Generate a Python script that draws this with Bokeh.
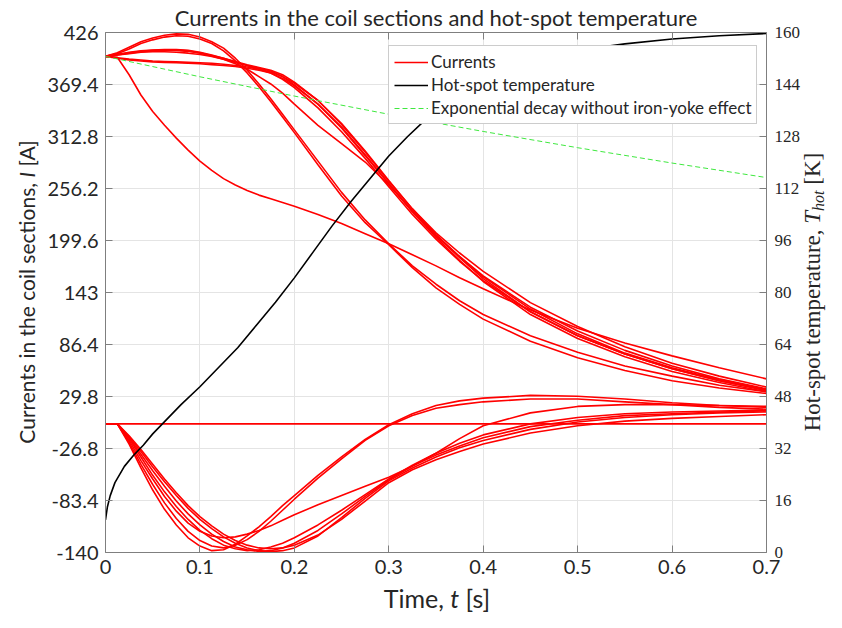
import math
from bokeh.plotting import figure
from bokeh.models import (Range1d, LinearAxis, FixedTicker, Legend, LegendItem,
                          ColumnDataSource, Row, Column, Div)
from bokeh.embed import file_html
from bokeh.resources import INLINE

# ---------------- data ----------------
time_s = [0, 0.0125, 0.025, 0.0375, 0.05, 0.0625, 0.075, 0.0875, 0.1,
          0.1125, 0.125, 0.1375, 0.15, 0.1625, 0.175, 0.1875, 0.2,
          0.225, 0.25, 0.275, 0.3, 0.325, 0.35, 0.375, 0.4,
          0.45, 0.5, 0.55, 0.6, 0.65, 0.7]

# currents in sections that start at ~400 A
cur_p1 = [400, 404, 410, 416, 420, 423, 424.5, 424, 421, 416, 409, 398, 385, 370, 354, 337, 320,
          286, 252, 222, 196, 172, 152, 134, 119, 96, 78, 63, 52, 42, 35]
cur_p2 = [400, 403, 408, 414, 418, 421, 422.5, 422, 419, 414, 406, 395, 382, 367, 351, 334, 317,
          282, 248, 219, 195, 170, 148, 130, 114, 90, 72, 58, 47, 39, 33]
cur_b1 = [400, 402, 404, 405.5, 406.5, 407, 407, 406, 404, 401, 398, 394.5, 391, 388, 385, 380, 372,
          352, 326, 296, 264, 234, 208, 186, 166, 132, 106, 84, 66, 52, 40]
cur_b2 = [400, 401.5, 403.5, 405, 406, 406.5, 406.5, 405.5, 403.5, 400.5, 397, 393.5, 390, 387, 384, 378, 369,
          348, 322, 292, 261, 231, 205, 182, 161, 127, 101, 80, 63, 49, 38]
cur_b3 = [400, 402, 404.5, 406, 407, 407.5, 407.5, 406.5, 404.5, 401.5, 398, 394, 390, 386, 382, 375, 366,
          344, 318, 289, 258, 228, 201, 177, 156, 122, 96, 76, 60, 47, 37]
cur_m = [400, 401.5, 403, 404.5, 405, 405, 404.5, 403.5, 402, 400, 397, 392, 386, 378, 370, 360, 348,
         325, 305, 285, 260, 232, 205, 181, 158, 122, 96, 76, 60, 47, 36]
cur_f1 = [400, 398.5, 397, 396, 395, 394.5, 394, 393.5, 393, 392.5, 391.5, 390, 388.5, 386, 383, 378, 371,
          352, 327, 297, 265, 234, 206, 182, 160, 125, 98, 77, 61, 48, 37]
cur_f2 = [400, 398, 396, 395, 394, 393.5, 393, 392.5, 392, 391, 390, 389, 387, 385, 382, 376, 368,
          348, 323, 293, 262, 231, 203, 178, 155, 119, 93, 73, 57, 45, 35]
cur_d = [400, 399, 380, 358, 340, 325, 311, 298, 286, 276, 267, 260, 254, 249, 245, 241, 237,
         228, 218, 207, 196, 184, 172, 159, 147, 124, 104, 88, 74, 61, 49]

# currents in sections that start at 0 A
cur_l1 = [0, 0, -22, -48, -72, -93, -110, -124, -133, -138, -137, -131, -122, -112, -101, -89, -78,
          -56, -36, -17, -1, 11, 20, 25, 28, 31, 30, 27, 23, 20, 18]
cur_l2 = [0, 0, -20, -44, -66, -86, -103, -117, -127, -133, -135, -132, -126, -117, -106, -94, -82,
          -59, -38, -18, -2, 9, 17, 21, 24, 27, 27, 24, 21, 18, 16]
cur_l3 = [0, 0, -18, -40, -60, -79, -95, -108, -117, -122, -124, -123, -120, -116, -111, -105, -99,
          -88, -78, -68, -58, -46, -32, -16, -2, 12, 19, 21, 21, 20, 19]
cur_l4 = [0, 0, -16, -36, -56, -74, -90, -104, -116, -125, -132, -136, -138, -137, -134, -130, -124,
          -110, -94, -77, -60, -45, -32, -21, -12, 0, 7, 11, 13, 14, 15]
cur_l5 = [0, 0, -15, -33, -51, -68, -84, -98, -110, -120, -128, -134, -137, -139, -138, -135, -130,
          -116, -98, -79, -61, -46, -34, -24, -15, -3, 4, 9, 11, 13, 14]
cur_l6 = [0, 0, -14, -30, -47, -63, -78, -92, -104, -114, -123, -130, -135, -138, -139, -138, -135,
          -122, -102, -81, -62, -48, -36, -26, -18, -6, 2, 7, 10, 12, 13]
cur_l7 = [0, 0, -13, -28, -44, -60, -75, -89, -101, -111, -120, -127, -132, -135, -136, -135, -132,
          -121, -104, -84, -64, -50, -39, -30, -22, -10, -2, 3, 6, 8, 10]
cur_zero = [0] * len(time_s)

# hot-spot temperature (right axis)
temp_time = [0, 0.002, 0.005, 0.01, 0.02, 0.03, 0.04, 0.05, 0.06, 0.08, 0.1, 0.12, 0.14, 0.16,
             0.18, 0.2, 0.22, 0.24, 0.26, 0.28, 0.3, 0.32, 0.34, 0.36, 0.38, 0.4, 0.45, 0.5,
             0.55, 0.6, 0.65, 0.7]
temp_k = [10, 14, 17.5, 21.5, 26.5, 30, 33, 36.5, 39.5, 45.5, 51, 57, 63, 70,
          77, 84.5, 92.5, 100.5, 108, 115, 122, 128, 133.5, 138, 142, 145.5, 151, 154.5,
          156.5, 158, 159, 159.7]

# exponential decay without iron-yoke effect
exp_time = [0, 0.1, 0.2, 0.3, 0.4, 0.5, 0.6, 0.7]
exp_cur = [400, 377.8, 356.8, 337.0, 318.3, 300.6, 283.9, 268.1]

x_ticks = [0, 0.1, 0.2, 0.3, 0.4, 0.5, 0.6, 0.7]
x_labels = ["0", "0.1", "0.2", "0.3", "0.4", "0.5", "0.6", "0.7"]
i_ticks = [-140, -83.4, -26.8, 29.8, 86.4, 143, 199.6, 256.2, 312.8, 369.4, 426]
i_labels = ["-140", "-83.4", "-26.8", "29.8", "86.4", "143", "199.6", "256.2", "312.8", "369.4", "426"]
t_ticks = [0, 16, 32, 48, 64, 80, 96, 112, 128, 144, 160]
t_labels = ["0", "16", "32", "48", "64", "80", "96", "112", "128", "144", "160"]

current_names = ["cur_p1", "cur_p2", "cur_b1", "cur_b2", "cur_b3", "cur_m", "cur_f1", "cur_f2",
                 "cur_d", "cur_l1", "cur_l2", "cur_l3", "cur_l4", "cur_l5", "cur_l6", "cur_l7",
                 "cur_zero"]
current_series = [cur_p1, cur_p2, cur_b1, cur_b2, cur_b3, cur_m, cur_f1, cur_f2, cur_d,
                  cur_l1, cur_l2, cur_l3, cur_l4, cur_l5, cur_l6, cur_l7, cur_zero]

# ---------------- styling ----------------
SANS = "Lato"
SERIF = "Liberation Serif"
AXC = "#7f7f7f"
TXT = "#262626"
GRID = "#e4e4e4"

TOTAL_W = 826
LEFT_W = 42      # strip holding the left axis title
RIGHT_W = 23     # strip holding the right axis title
BOTTOM_H = 28    # strip holding the x axis title
P_H = 584        # plot height
P_W = TOTAL_W - LEFT_W - RIGHT_W
TOP_B = 32
BOT_B = 32
FRAME_L = 105 - LEFT_W
FRAME_R = 769 - LEFT_W

p = figure(width=P_W, height=P_H, x_range=Range1d(0, 0.7), y_range=Range1d(-140, 426),
           output_backend="svg", toolbar_location=None,
           min_border_left=FRAME_L, min_border_right=P_W - FRAME_R, min_border_top=TOP_B,
           min_border_bottom=BOT_B,
           title="Currents in the coil sections and hot-spot temperature")
p.background_fill_color = "white"
p.border_fill_color = "white"
p.outline_line_color = None
p.title.align = "center"
p.title.text_font = SANS
p.title.text_font_size = "22px"
p.title.text_font_style = "normal"
p.title.text_color = TXT
p.title.standoff = 3

p.extra_y_ranges = {"temp": Range1d(0, 160)}

src = ColumnDataSource(dict(t=time_s, **dict(zip(current_names, current_series))))
red_rs = []
for nm in current_names:
    red_rs.append(p.line("t", nm, source=src, line_color="#ff0000", line_width=1.6))

g_r = p.line(exp_time, exp_cur, line_color="#3fe83f", line_width=1.0, line_dash="5 3")
k_r = p.line(temp_time, temp_k, y_range_name="temp", line_color="#000000", line_width=1.6)

xt = FixedTicker(ticks=x_ticks)
it = FixedTicker(ticks=i_ticks)
tt = FixedTicker(ticks=t_ticks)


def style_axis(ax, font, size):
    ax.axis_line_color = AXC
    ax.axis_line_width = 1
    ax.major_tick_line_color = AXC
    ax.major_tick_in = 7
    ax.major_tick_out = 0
    ax.minor_tick_line_color = None
    ax.major_label_text_font = font
    ax.major_label_text_font_size = size
    ax.major_label_text_color = TXT


xa = p.xaxis[0]
xa.ticker = xt
xa.major_label_overrides = dict(zip(x_ticks, x_labels))
style_axis(xa, SANS, "20px")
xa.major_label_standoff = 7

ya = p.yaxis[0]
ya.ticker = it
ya.major_label_overrides = dict(zip(i_ticks, i_labels))
style_axis(ya, SANS, "20px")
ya.major_label_standoff = 7

ra = LinearAxis(y_range_name="temp", ticker=tt)
ra.major_label_overrides = dict(zip(t_ticks, t_labels))
style_axis(ra, SERIF, "17px")
ra.major_label_standoff = 8
p.add_layout(ra, "right")

ta = LinearAxis(ticker=xt)
style_axis(ta, SANS, "10px")
ta.major_label_overrides = {tk: "" for tk in x_ticks}
ta.major_label_standoff = 0
p.add_layout(ta, "above")

p.xgrid.ticker = xt
p.ygrid.ticker = it
p.xgrid.grid_line_color = GRID
p.ygrid.grid_line_color = GRID

legend = Legend(items=[LegendItem(label="Currents", renderers=[red_rs[0]]),
                       LegendItem(label="Hot-spot temperature", renderers=[k_r]),
                       LegendItem(label="Exponential decay without iron-yoke effect", renderers=[g_r])],
                location=(283, 428))
legend.label_text_font = SANS
legend.label_text_font_size = "17px"
legend.label_text_color = TXT
legend.border_line_color = "#9a9a9a"
legend.border_line_width = 1
legend.background_fill_color = "white"
legend.background_fill_alpha = 1
legend.padding = 5
legend.spacing = 2
legend.glyph_width = 34
legend.glyph_height = 20
legend.label_height = 20
legend.label_standoff = 3
legend.margin = 0
p.add_layout(legend, "center")

# ---- axis titles as HTML text (italic symbols, subscript) ----
frame_mid = (TOP_B + (P_H - BOT_B)) / 2


def vertical_title(html, w, cx, font, size):
    return Div(
        text=('<div style="position:relative;width:%dpx;height:%dpx;">'
              '<div style="position:absolute;left:%dpx;top:%dpx;'
              'transform:translate(-50%%,-50%%) rotate(-90deg);white-space:nowrap;'
              'font-family:\'%s\';font-size:%s;line-height:1;color:%s;">%s</div></div>')
             % (w, P_H, cx, frame_mid, font, size, TXT, html),
        width=w, height=P_H, margin=(0, 0, 0, 0))


left_title = vertical_title('Currents in the coil sections, <i>I</i> [A]', LEFT_W, 26, SANS, "21px")
right_title = vertical_title(
    'Hot-spot temperature, <i>T</i><sub style="font-size:16px;vertical-align:-0.3em;"><i>hot</i></sub> [K]',
    RIGHT_W, RIGHT_W // 2, SERIF, "23px")

x_mid = 105 + (769 - 105) / 2
bottom_title = Div(
    text=('<div style="position:relative;width:%dpx;height:%dpx;">'
          '<div style="position:absolute;left:%dpx;top:%dpx;transform:translate(-50%%,-50%%);'
          'white-space:nowrap;font-family:\'%s\';font-size:25px;line-height:1;color:%s;">'
          'Time, <i>t</i> [s]</div></div>') % (TOTAL_W, BOTTOM_H, x_mid, 14, SANS, TXT),
    width=TOTAL_W, height=BOTTOM_H, margin=(0, 0, 0, 0))

layout = Column(children=[Row(children=[left_title, p, right_title], spacing=0), bottom_title],
                spacing=0)
open("out.html", "w").write(file_html(layout, INLINE))
